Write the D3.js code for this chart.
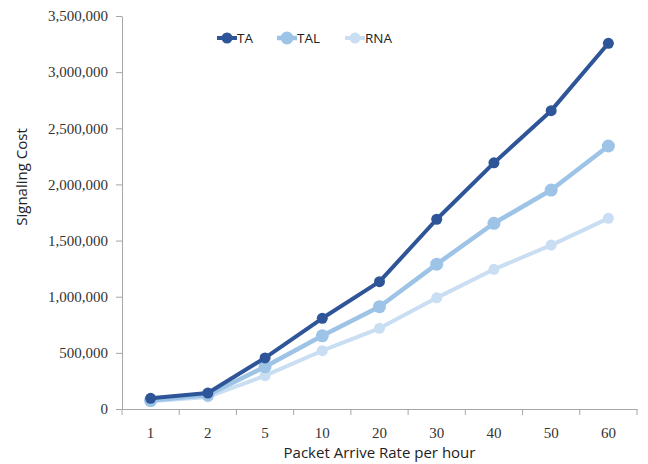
<!DOCTYPE html>
<html>
<head>
<meta charset="utf-8">
<script src="https://cdn.jsdelivr.net/npm/d3@7"></script>
<style>
  body { margin: 0; background: #fff; }
  .axis path, .axis line { stroke: #a6a6a6; }
  .title { font-family: "Open Sans", sans-serif; font-size: 15px; fill: #222; }
  .legend text { font-family: "Open Sans", sans-serif; font-size: 13.5px; fill: #222; }
</style>
</head>
<body>
<svg id="chart" width="648" height="464"></svg>
<script>
// category labels on the x axis
var rates = ["1", "2", "5", "10", "20", "30", "40", "50", "60"];

// series values
var ta  = [95000, 142000, 455000, 808000, 1134000, 1690000, 2192000, 2657000, 3257000];
var tal = [75000, 125000, 377000, 652000, 911000, 1290000, 1654000, 1950000, 2342000];
var rna = [68000, 107000, 297000, 519000, 719000, 990000, 1244000, 1460000, 1698000];

var yTicks = [0, 500000, 1000000, 1500000, 2000000, 2500000, 3000000, 3500000];

var series = [
    { name: "TA",  values: ta,  color: "#2e5597", width: 4,   r: 5.5 },
    { name: "TAL", values: tal, color: "#9dc3e6", width: 4.5, r: 6.5 },
    { name: "RNA", values: rna, color: "#c9def2", width: 4,   r: 5.5 }
];

var svg = d3.select("#chart");
var plotLeft = 122, plotRight = 637, plotTop = 16, plotBottom = 409;

var x = d3.scaleBand().domain(rates).range([plotLeft, plotRight]);
var y = d3.scaleLinear().domain([0, 3500000]).range([plotBottom, plotTop]);

// y axis
var yAxis = svg.append("g")
    .attr("class", "axis")
    .attr("transform", "translate(" + plotLeft + ",0)")
    .call(d3.axisLeft(y).tickValues(yTicks).tickSize(6).tickSizeOuter(0).tickPadding(8)
        .tickFormat(d3.format(",")));

// x axis
var xAxis = svg.append("g")
    .attr("class", "axis")
    .attr("transform", "translate(0," + plotBottom + ")")
    .call(d3.axisBottom(x).tickSize(0).tickPadding(18));

// serif tick labels like the original
[yAxis, xAxis].forEach(function (a) {
    a.selectAll("text")
        .style("font-family", "'Liberation Serif', 'DejaVu Serif', serif")
        .style("font-size", "15px")
        .style("fill", "#333");
});

// tick marks sit between categories
xAxis.selectAll(".sep")
    .data(rates.concat(["end"]))
    .enter().append("line")
    .attr("x1", function (d, i) { return plotLeft + i * x.step(); })
    .attr("x2", function (d, i) { return plotLeft + i * x.step(); })
    .attr("y1", 0).attr("y2", 6)
    .attr("stroke", "#a6a6a6");

// axis titles
svg.append("text").attr("class", "title")
    .attr("x", (plotLeft + plotRight) / 2).attr("y", 458)
    .attr("text-anchor", "middle")
    .text("Packet Arrive Rate per hour");

svg.append("text").attr("class", "title")
    .attr("transform", "translate(27,177) rotate(-90)")
    .attr("text-anchor", "middle")
    .text("Signaling Cost");

var line = d3.line()
    .x(function (d, i) { return x(rates[i]) + x.bandwidth() / 2; })
    .y(function (d) { return y(d); });

// draw light series first so TA sits on top
series.slice().reverse().forEach(function (s) {
    svg.append("path")
        .datum(s.values)
        .attr("fill", "none")
        .attr("stroke", s.color)
        .attr("stroke-width", s.width)
        .attr("stroke-linejoin", "round")
        .attr("d", line);

    svg.selectAll(null)
        .data(s.values)
        .enter().append("circle")
        .attr("cx", function (d, i) { return x(rates[i]) + x.bandwidth() / 2; })
        .attr("cy", function (d) { return y(d); })
        .attr("r", s.r)
        .attr("fill", s.color);
});

// legend
var legendX = [217, 277, 345];
var legend = svg.append("g").attr("class", "legend");
series.forEach(function (s, i) {
    var g = legend.append("g").attr("transform", "translate(" + legendX[i] + ",38)");
    g.append("line").attr("x1", 0).attr("x2", 20).attr("y1", 0).attr("y2", 0)
        .attr("stroke", s.color).attr("stroke-width", s.width);
    g.append("circle").attr("cx", 10).attr("cy", 0).attr("r", s.r).attr("fill", s.color);
    g.append("text").attr("x", 20).attr("y", 5).text(s.name);
});
</script>
</body>
</html>
